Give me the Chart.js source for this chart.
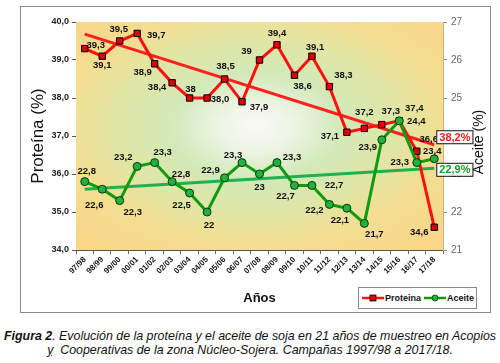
<!DOCTYPE html>
<html>
<head>
<meta charset="utf-8">
<script src="https://cdn.jsdelivr.net/npm/chart.js@4.4.1/dist/chart.umd.min.js"></script>
<style>
  html, body { margin:0; padding:0; background:#fff; }
  body { width:500px; height:363px; position:relative; overflow:hidden; font-family: Arial, "Liberation Sans", sans-serif; }
  #frame { position:absolute; left:20px; top:6px; width:471px; height:307px; border:1px solid #8a8a8a; box-sizing:border-box; }
  #wrap { position:absolute; left:0; top:0; width:500px; height:320px; }
  #legend { position:absolute; left:358px; top:287px; width:119px; height:22px; border:1px solid #8a8a8a; box-sizing:border-box; background:#fff;
            font: bold 9px Arial, "Liberation Sans", sans-serif; color:#111; display:flex; align-items:center; padding-left:3px; }
  #legend .item { display:flex; align-items:center; margin-right:3px; }
  #legend svg { margin-right:1px; }
  #caption { position:absolute; left:0; top:329px; width:500px; text-align:center; font: italic 12.4px Arial, "Liberation Sans", sans-serif; line-height:14px; color:#111; white-space:nowrap; }
  #caption b { font-weight:bold; }
  #caption .y { text-decoration: underline dotted #3355cc; }
</style>
</head>
<body>
<div id="frame"></div>
<div id="wrap"><canvas id="c" width="500" height="320"></canvas></div>
<div id="legend">
  <span class="item"><svg width="22" height="8"><line x1="0" y1="4" x2="22" y2="4" stroke="#ff1010" stroke-width="2.5"/><rect x="8" y="1" width="6" height="6" fill="#e00000" stroke="#000" stroke-width="0.8"/></svg>Proteina</span>
  <span class="item"><svg width="22" height="8"><line x1="0" y1="4" x2="22" y2="4" stroke="#109a10" stroke-width="2.5"/><circle cx="11" cy="4" r="3" fill="#22b040" stroke="#0a3a0a" stroke-width="0.8"/></svg>Aceite</span>
</div>
<div id="caption"><b>Figura 2</b>. Evolución de la proteína y el aceite de soja en 21 años de muestreo en Acopios<br><span class="y">y</span>&nbsp; Cooperativas de la zona Núcleo-Sojera. Campañas 1997/98 a 2017/18.</div>
<script>
// ---- data ----
const categories = ['97/98','98/99','99/00','00/01','01/02','02/03','03/04','04/05','05/06','06/07','07/08',
                    '08/09','09/10','10/11','11/12','12/13','13/14','14/15','15/16','16/17','17/18'];
const protein = [39.3,39.1,39.5,39.7,38.9,38.4,38.0,38.0,38.5,37.9,39.0,39.4,38.6,39.1,38.3,37.1,37.2,37.3,37.4,36.6,34.6];
const aceite  = [22.8,22.6,22.3,23.2,23.3,22.8,22.5,22.0,22.9,23.3,23.0,23.3,22.7,22.7,22.2,22.1,21.7,23.9,24.4,23.3,23.4];
const proteinLabels = ['39,3','39,1','39,5','39,7','38,9','38,4','38','38,0','38,5','37,9','39','39,4','38,6','39,1','38,3','37,1','37,2','37,3','37,4','36,6','34,6'];
const aceiteLabels  = ['22,8','22,6','22,3','23,2','23,3','22,8','22,5','22','22,9','23,3','23','23,3','22,7','22,7','22,2','22,1','21,7','23,9','24,4','23,3','23,4'];
const proteinTrendEnds = [39.68, 36.77];   // trend line at first and last campaign
const aceiteTrendEnds  = [22.60, 23.15];
const proteinTrendLabel = '38,2%';
const aceiteTrendLabel  = '22,9%';
const leftTickLabels  = ['34,0','35,0','36,0','37,0','38,0','39,0','40,0'];
const rightTickLabels = ['21','22','23','24','25','26','27'];

// ---- label placement (pixel offsets from each point) ----
const proteinLabelOffsets = [[11,-3],[0,9],[-1,-12],[19,2],[-12,9],[-15,5],[1,-9],[13,1],[1,-13],[17,6],[-13,-9],
  [0,-11],[8,11],[3,-9],[14,-11],[-17,4],[0,-16],[9,-13],[15,-12],[12,-12],[-15,5]];
const aceiteLabelOffsets = [[2,-10],[-8,16],[13,12],[-14,-9],[8,-10],[9,-7],[-8,12],[2,13],[-14,-7],[-9,-7],[0,13],
  [15,-5],[-9,11],[22,0],[-15,6],[-7,12],[10,11],[-14,8],[17,1],[-17,0],[-2,-7]];

const trendSeries = ends => categories.map((c,i) => i === 0 ? ends[0] : (i === categories.length-1 ? ends[1] : null));

const FONT = 'Arial, "Liberation Sans", sans-serif';

const bgPlugin = {
  id: 'bg',
  beforeDatasetsDraw(chart) {
    const {ctx, chartArea: a} = chart;
    ctx.save();
    ctx.beginPath(); ctx.rect(a.left, a.top, a.right-a.left, a.bottom-a.top); ctx.clip();
    const cx = a.left + (a.right-a.left)*0.49, cy = a.top + (a.bottom-a.top)*0.46;
    ctx.translate(cx, cy); ctx.scale(1, 0.62);
    const g = ctx.createRadialGradient(0,0,0,0,0,250);
    g.addColorStop(0, '#f9f9f6');
    g.addColorStop(0.14, '#eef5e6');
    g.addColorStop(0.34, '#d2e9b8');
    g.addColorStop(0.55, '#dfe6a6');
    g.addColorStop(0.75, '#f3de92');
    g.addColorStop(1, '#f9d688');
    ctx.fillStyle = g;
    ctx.fillRect(-400, -400, 800, 800);
    ctx.restore();
  }
};

const labelPlugin = {
  id: 'vlabels',
  afterDatasetsDraw(chart) {
    const {ctx} = chart;
    ctx.save();
    ctx.font = 'bold 9.5px ' + FONT;
    ctx.fillStyle = '#111';
    ctx.textAlign = 'center';
    ctx.textBaseline = 'middle';
    const draw = (dsIndex, labels, offs) => {
      chart.getDatasetMeta(dsIndex).data.forEach((pt, i) => {
        ctx.fillText(labels[i], pt.x + offs[i][0], pt.y + offs[i][1]);
      });
    };
    draw(0, proteinLabels, proteinLabelOffsets);
    draw(1, aceiteLabels, aceiteLabelOffsets);

    // trend end labels
    const box = (dsIndex, text, color, dy) => {
      const meta = chart.getDatasetMeta(dsIndex);
      const pt = meta.data[meta.data.length-1];
      ctx.font = 'bold 11px ' + FONT;
      const w = ctx.measureText(text).width + 5, h = 13;
      const x = pt.x + 2, y = pt.y + dy - h/2;
      ctx.fillStyle = '#fff';
      ctx.fillRect(x, y, w, h);
      ctx.strokeStyle = '#111'; ctx.lineWidth = 1;
      ctx.strokeRect(x+0.5, y+0.5, w, h);
      ctx.fillStyle = color;
      ctx.textAlign = 'left';
      ctx.fillText(text, x + 3, y + h/2 + 1);
    };
    box(2, proteinTrendLabel, '#ff1a1a', -8);
    box(3, aceiteTrendLabel, '#1a9a2a', 1);

    // right axis title (reads bottom to top)
    ctx.save();
    ctx.translate(479, 142);
    ctx.rotate(-Math.PI/2);
    ctx.font = '14px ' + FONT;
    ctx.fillStyle = '#111';
    ctx.textAlign = 'center';
    ctx.fillText('Aceite (%)', 0, 0);
    ctx.restore();
    ctx.restore();
  }
};

const zeroPad = s => { s.paddingTop = 0; s.paddingBottom = 0; s.paddingLeft = 0; s.paddingRight = 0; };

new Chart(document.getElementById('c'), {
  type: 'line',
  data: {
    labels: categories,
    datasets: [
      { label: 'Proteina', data: protein, yAxisID: 'y', order: 1,
        borderColor: '#ff1010', borderWidth: 3, tension: 0,
        pointStyle: 'rect', pointRadius: 4.5, pointBackgroundColor: '#e00000', pointBorderColor: '#000', pointBorderWidth: 1 },
      { label: 'Aceite', data: aceite, yAxisID: 'y1', order: 0,
        borderColor: '#109a10', borderWidth: 3, tension: 0,
        pointStyle: 'circle', pointRadius: 4, pointBackgroundColor: '#22b040', pointBorderColor: '#0a3a0a', pointBorderWidth: 1 },
      { label: 'trendP', data: trendSeries(proteinTrendEnds), yAxisID: 'y', order: 2, spanGaps: true,
        borderColor: '#ff2020', borderWidth: 3, pointRadius: 0 },
      { label: 'trendA', data: trendSeries(aceiteTrendEnds), yAxisID: 'y1', order: 3, spanGaps: true,
        borderColor: '#20b050', borderWidth: 3, pointRadius: 0 }
    ]
  },
  options: {
    responsive: false,
    animation: false,
    events: [],
    layout: { padding: { left: 20, top: 22, right: 8, bottom: 0 } },
    plugins: { legend: { display: false }, tooltip: { enabled: false } },
    scales: {
      x: {
        type: 'category', offset: true,
        grid: { display: true, drawOnChartArea: false, offset: true, tickLength: 4, color: '#666' },
        border: { color: '#555', width: 1 },
        ticks: { minRotation: 45, maxRotation: 45, autoSkip: false, padding: 1, color: '#111', font: { family: FONT, size: 8, weight: 'bold' } },
        title: { display: true, text: 'Años', color: '#111', font: { family: FONT, size: 13, weight: 'bold' }, padding: { top: 0, bottom: 14 } },
        afterFit: s => { s.height = 70; zeroPad(s); }
      },
      y: {
        position: 'left', min: 34, max: 40,
        ticks: { stepSize: 1, padding: 3, color: '#222', font: { family: FONT, size: 9, weight: 'bold' },
                 callback: v => leftTickLabels[Math.round(v - 34)] },
        grid: { display: true, drawOnChartArea: false, tickLength: 4, color: '#555' },
        border: { color: '#444', width: 1 },
        title: { display: true, text: 'Proteína (%)', color: '#111', font: { family: FONT, size: 17 }, padding: { top: 8, bottom: 0 } },
        afterFit: s => { s.width = 56; zeroPad(s); }
      },
      y1: {
        position: 'right', min: 21, max: 27,
        ticks: { stepSize: 1, padding: 4, color: '#666', font: { family: FONT, size: 10 },
                 callback: v => rightTickLabels[Math.round(v - 21)] },
        grid: { display: true, drawOnChartArea: false, tickLength: 4, color: '#888' },
        border: { color: '#c9b27a', width: 1 },
        afterFit: s => { s.width = 49; zeroPad(s); }
      }
    }
  },
  plugins: [bgPlugin, labelPlugin]
});
</script>
</body>
</html>
